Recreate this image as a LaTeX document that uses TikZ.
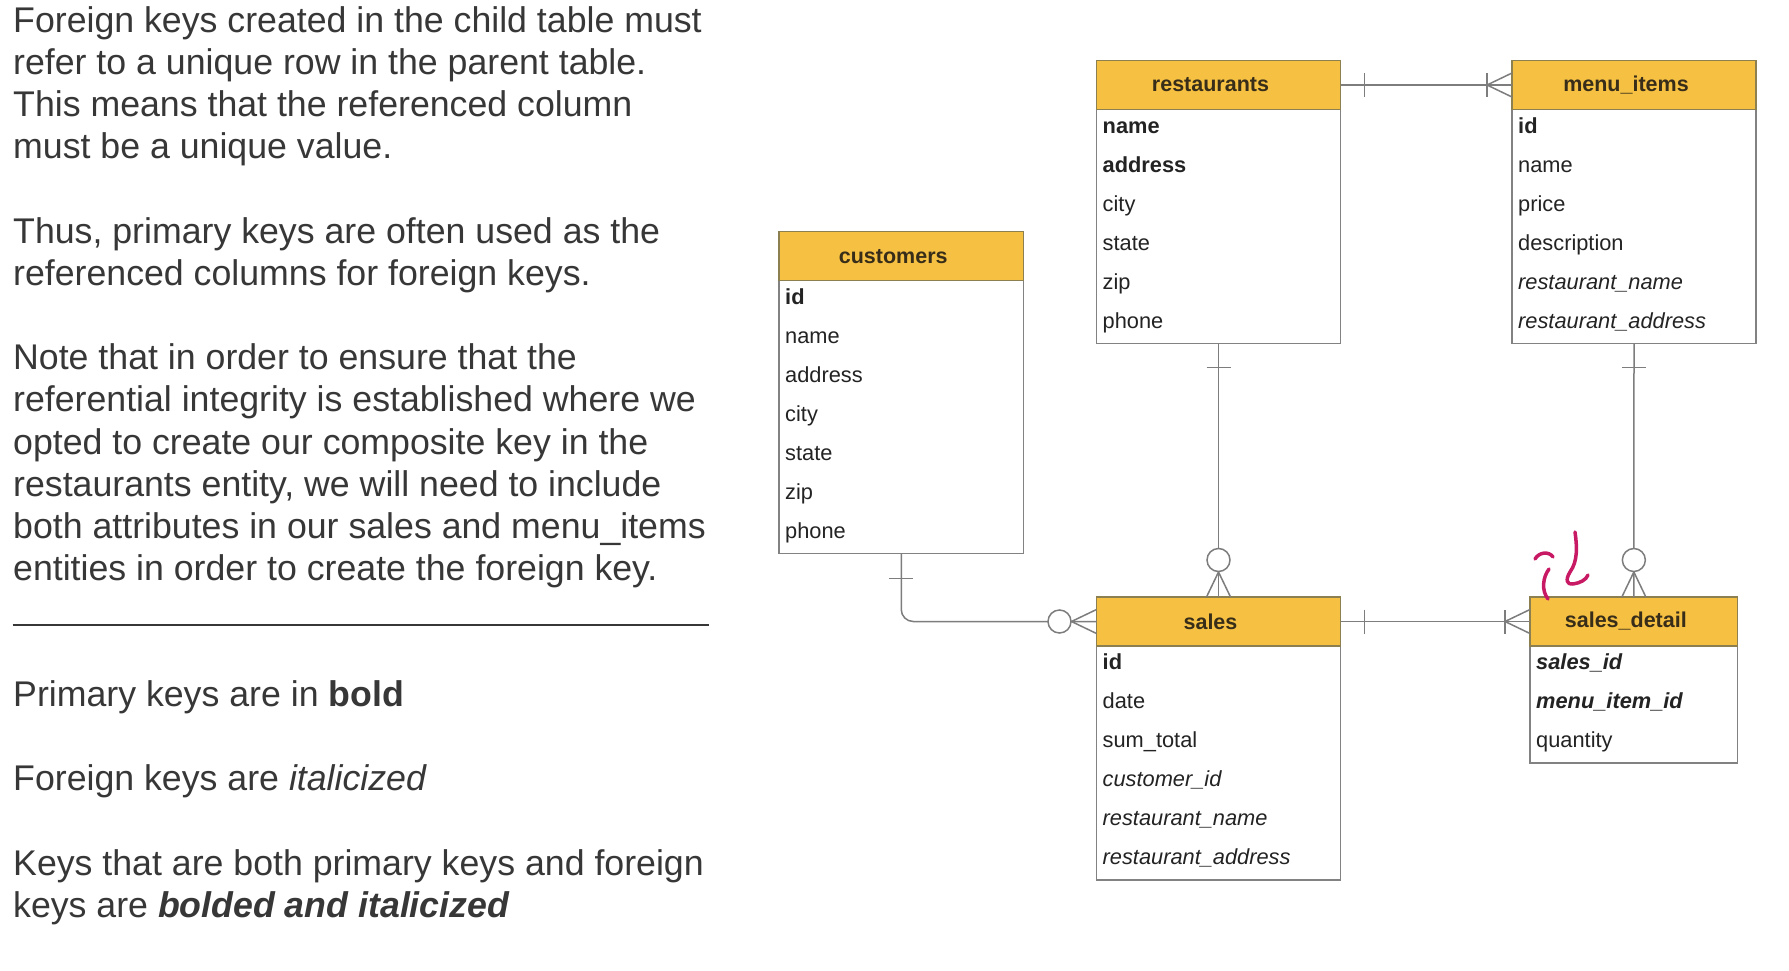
\documentclass[tikz,border=0pt]{standalone}
\usepackage{fontspec}
\setmainfont{Liberation Sans}
\usetikzlibrary{calc}
\definecolor{hdrfill}{RGB}{246,193,66}
\definecolor{hdrline}{RGB}{140,128,80}
\definecolor{boxline}{RGB}{130,130,130}
\definecolor{connc}{RGB}{125,125,125}
\definecolor{rowtxt}{RGB}{35,35,35}
\definecolor{hdrtxt}{RGB}{55,45,25}
\definecolor{paratxt}{RGB}{55,55,55}
\definecolor{inkpink}{RGB}{200,25,100}
\newcommand{\hdrshift}{\hspace*{-16pt}}
\tikzset{
  hdr/.style={draw=hdrline, line width=1.2pt, fill=hdrfill, anchor=north west, inner sep=0pt, outer sep=0pt,
    minimum height=49pt, text=hdrtxt, font=\bfseries\fontsize{21.5}{24}\selectfont},
  body/.style={draw=boxline, line width=1.4pt, fill=white, anchor=north west, inner sep=0pt, outer sep=0pt},
  row/.style={anchor=base west, inner sep=0pt, text=rowtxt, font=\fontsize{21.8}{24}\selectfont},
  para/.style={anchor=base west, inner sep=0pt, text=paratxt, font=\fontsize{35.7}{42}\selectfont},
  conn/.style={draw=connc, line width=1.5pt},
  ring/.style={draw=connc, line width=1.5pt, fill=white},
  ink/.style={draw=inkpink, line width=3.5pt, line cap=round, line join=round}
}
\begin{document}
\begin{tikzpicture}[x=1pt,y=-1pt]
\useasboundingbox (0,0) rectangle (1789,970);
\fill[white] (0,0) rectangle (1789,970);

% ---------- left explanatory text ----------
\node[para] (t0) at (13,32) {Foreign keys created in the child table must};
\node[para] (t1) at (13,74.2) {refer to a unique row in the parent table.};
\node[para] (t2) at (13,116.4) {This means that the referenced column};
\node[para] (t3) at (13,158.6) {must be a unique value.};
\node[para] (t5) at (13,243) {Thus, primary keys are often used as the};
\node[para] (t6) at (13,285.2) {referenced columns for foreign keys.};
\node[para] (t8) at (13,369.6) {Note that in order to ensure that the};
\node[para] (t9) at (13,411.8) {referential integrity is established where we};
\node[para] (t10) at (13,454) {opted to create our composite key in the};
\node[para] (t11) at (13,496.2) {restaurants entity, we will need to include};
\node[para] (t12) at (13,538.4) {both attributes in our sales and menu\_items};
\node[para] (t13) at (13,580.6) {entities in order to create the foreign key.};
\coordinate (ruleL) at (12.5,625);
\coordinate (ruleR) at (708.5,625);
\draw[draw=paratxt, line width=2pt] (ruleL) -- (ruleR);
\node[para] (k1) at (13,706.3) {Primary keys are in \textbf{bold}};
\node[para] (k2) at (13,790.6) {Foreign keys are \textit{italicized}};
\node[para] (k3) at (13,875) {Keys that are both primary keys and foreign};
\node[para] (k4) at (13,917.2) {keys are \textbf{\textit{bolded and italicized}}};

% ---------- restaurants ----------
\node[body, minimum width=244pt, minimum height=234pt] (rb) at (1096.5,109.5) {};
\node[hdr, minimum width=244pt] (rh) at (1096.5,60.5) {\hdrshift restaurants};
\node[row] (r1) at (1102.5,133) {\textbf{name}};
\node[row] (r2) at (1102.5,172) {\textbf{address}};
\node[row] (r3) at (1102.5,211) {city};
\node[row] (r4) at (1102.5,250) {state};
\node[row] (r5) at (1102.5,289) {zip};
\node[row] (r6) at (1102.5,328) {phone};

% ---------- menu_items ----------
\node[body, minimum width=244pt, minimum height=234pt] (mb) at (1512,109.5) {};
\node[hdr, minimum width=244pt] (mh) at (1512,60.5) {\hdrshift menu\_items};
\node[row] (m1) at (1518,133) {\textbf{id}};
\node[row] (m2) at (1518,172) {name};
\node[row] (m3) at (1518,211) {price};
\node[row] (m4) at (1518,250) {description};
\node[row] (m5) at (1518,289) {\textit{restaurant\_name}};
\node[row] (m6) at (1518,328) {\textit{restaurant\_address}};

% ---------- customers ----------
\node[body, minimum width=244.5pt, minimum height=273pt] (cb) at (779,280.6) {};
\node[hdr, minimum width=244.5pt] (ch) at (779,231.6) {\hdrshift customers};
\node[row] (c1) at (785,304) {\textbf{id}};
\node[row] (c2) at (785,343) {name};
\node[row] (c3) at (785,382) {address};
\node[row] (c4) at (785,421) {city};
\node[row] (c5) at (785,460) {state};
\node[row] (c6) at (785,499) {zip};
\node[row] (c7) at (785,538) {phone};

% ---------- sales ----------
\node[body, minimum width=244pt, minimum height=234pt] (sb) at (1096.5,646) {};
\node[hdr, minimum width=244pt] (sh) at (1096.5,597) {\hdrshift sales};
\node[row] (s1) at (1102.5,669.5) {\textbf{id}};
\node[row] (s2) at (1102.5,708.5) {date};
\node[row] (s3) at (1102.5,747.5) {sum\_total};
\node[row] (s4) at (1102.5,786.5) {\textit{customer\_id}};
\node[row] (s5) at (1102.5,825.5) {\textit{restaurant\_name}};
\node[row] (s6) at (1102.5,864.5) {\textit{restaurant\_address}};

% ---------- sales_detail ----------
\node[body, minimum width=207.7pt, minimum height=117pt] (db) at (1530,646) {};
\node[hdr, minimum width=207.7pt] (dh) at (1530,597) {\hdrshift sales\_detail};
\node[row] (d1) at (1536,669.5) {\textbf{\textit{sales\_id}}};
\node[row] (d2) at (1536,708.5) {\textbf{\textit{menu\_item\_id}}};
\node[row] (d3) at (1536,747.5) {quantity};

% ---------- restaurants -- menu_items (one to many) ----------
\draw[conn] (rh.east) -- (mh.west);
\draw[conn] ($(rh.east)+(24,-12)$) -- ($(rh.east)+(24,12)$);
\draw[conn] ($(mh.west)+(-25,-12)$) -- ($(mh.west)+(-25,12)$);
\draw[conn] ($(mh.west)+(0,-12)$) -- ($(mh.west)+(-25,0)$) -- ($(mh.west)+(0,12)$);

% ---------- restaurants -- sales (one to zero-or-many) ----------
\draw[conn] (rb.south) -- (sh.north);
\draw[conn] ($(rb.south)+(-12,24)$) -- ($(rb.south)+(12,24)$);
\draw[conn] ($(sh.north)+(-12,0)$) -- ($(sh.north)+(0,-25)$) -- ($(sh.north)+(12,0)$);
\draw[ring] ($(sh.north)+(0,-37)$) circle[radius=11.5];

% ---------- customers -- sales (one to zero-or-many) ----------
\draw[conn, rounded corners=12pt] (cb.south) |- (sh.west);
\draw[conn] ($(cb.south)+(-12,25)$) -- ($(cb.south)+(12,25)$);
\draw[conn] ($(sh.west)+(0,-12)$) -- ($(sh.west)+(-25,0)$) -- ($(sh.west)+(0,12)$);
\draw[ring] ($(sh.west)+(-37,0)$) circle[radius=11.5];

% ---------- sales -- sales_detail (one to many) ----------
\draw[conn] (sh.east) -- (dh.west);
\draw[conn] ($(sh.east)+(24,-12)$) -- ($(sh.east)+(24,12)$);
\draw[conn] ($(dh.west)+(-25,-12)$) -- ($(dh.west)+(-25,12)$);
\draw[conn] ($(dh.west)+(0,-12)$) -- ($(dh.west)+(-25,0)$) -- ($(dh.west)+(0,12)$);

% ---------- menu_items -- sales_detail (one to zero-or-many) ----------
\draw[conn] (mb.south) -- (dh.north);
\draw[conn] ($(mb.south)+(-12,24)$) -- ($(mb.south)+(12,24)$);
\draw[conn] ($(dh.north)+(-12,0)$) -- ($(dh.north)+(0,-25)$) -- ($(dh.north)+(12,0)$);
\draw[ring] ($(dh.north)+(0,-37)$) circle[radius=11.5];

% ---------- handwritten "id" annotation ----------
\draw[ink] (1535,559) .. controls (1539,552) and (1549,551) .. (1553,557);
\draw[ink] (1549,569) .. controls (1543,577) and (1541,590) .. (1548,599);
\draw[ink] (1575,532) .. controls (1577,546) and (1578,561) .. (1570,572)
  .. controls (1565,580) and (1567,585) .. (1573,584)
  .. controls (1580,583) and (1586,580) .. (1588,575);
\end{tikzpicture}
\end{document}
